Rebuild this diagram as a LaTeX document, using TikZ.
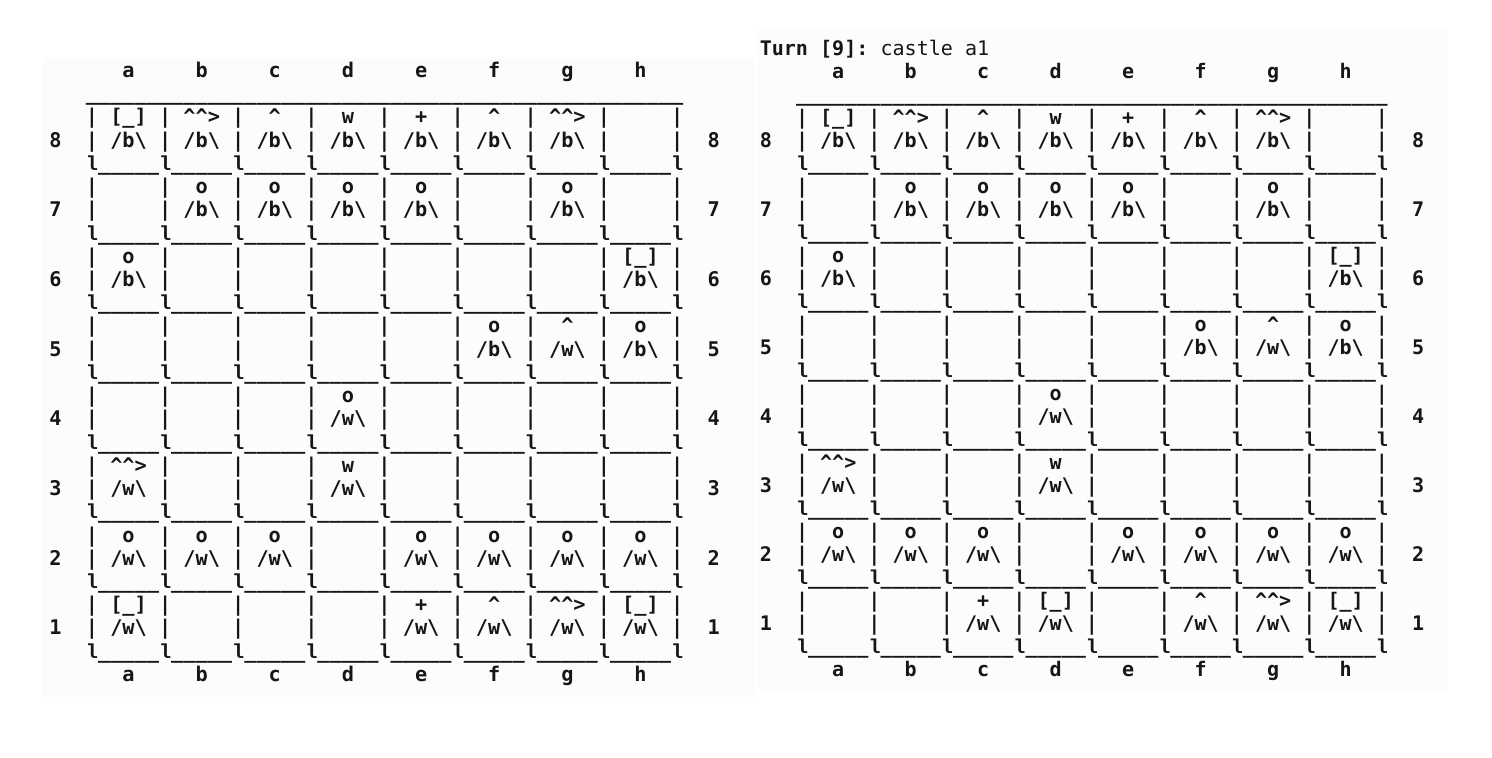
\documentclass[tikz,border=0pt]{standalone}
\usepackage{fontspec}
\setmonofont{DejaVu Sans Mono}
\newfontfamily\cornerfont{Liberation Mono}
\definecolor{panel}{HTML}{FCFCFC}
\definecolor{ink}{HTML}{161616}
\newcommand\pcr{[\_]}
\newcommand\pcn{\textasciicircum\textasciicircum>}
\newcommand\pcb{\textasciicircum}
\newcommand\pcq{w}
\newcommand\pck{+}
\newcommand\pcp{o}
\newcommand\pwb{/b\textbackslash}
\newcommand\pww{/w\textbackslash}
\newcommand\fiveunders{\_\_\_\_\_}
\newcommand\topunders{\_\_\_\_\_\_\_\_\_\_\_\_\_\_\_\_\_\_\_\_\_\_\_\_\_\_\_\_\_\_\_\_\_\_\_\_\_\_\_\_\_\_\_\_\_\_\_\_\_}
\newcommand\bdfont{}
\newcommand\cnfont{}
\tikzset{
  ch/.style={anchor=base, inner sep=0pt, outer sep=0pt, text=ink, font=\bdfont},
  corner/.style={anchor=base, inner sep=0pt, outer sep=0pt, text=ink, font=\cnfont},
  strw/.style={anchor=base west, inner sep=0pt, outer sep=0pt, text=ink, font=\bdfont},
}
% #1 prefix, #2 row index (0..7), #3 rank, #4 cells
\newcommand\boardrow[4]{%
  \pgfmathtruncatemacro\rowT{2+3*#2}%
  \pgfmathtruncatemacro\rowM{3+3*#2}%
  \pgfmathtruncatemacro\rowB{4+3*#2}%
  \node[ch] (#1-l#3) at (0,\rowM) {#3};
  \node[ch] (#1-r#3) at (54,\rowM) {#3};
  \foreach \m in {0,...,8} {
    \node[ch] (#1-#3-t\m) at ({3+6*\m},\rowT) {|};
    \node[ch] (#1-#3-m\m) at ({3+6*\m},\rowM) {|};
    \node[corner] (#1-#3-k\m) at ({3+6*\m},\rowB) {l};
  }
  \foreach \m in {0,...,7} {
    \node[strw] (#1-#3-u\m) at ({3.5+6*\m},\rowB) {\fiveunders};
  }
  \foreach \p/\cl [count=\j from 0] in {#4} {
    \if\p-\else
      \node[ch] (#1-#3-p\j) at ({6+6*\j},\rowT) {\csname pc\p\endcsname};
      \node[ch] (#1-#3-c\j) at ({6+6*\j},\rowM) {\csname pw\cl\endcsname};
    \fi
  }
}
\newcommand\boardframe[1]{%
  \foreach \L [count=\j from 0] in {a,...,h} {
    \node[ch] (#1-top\L) at ({6+6*\j},0) {\L};
    \node[ch] (#1-bot\L) at ({6+6*\j},26) {\L};
  }
  \node[strw] (#1-topline) at (2.5,1) {\topunders};
}
\begin{document}
\begin{tikzpicture}
\useasboundingbox (0,0) rectangle (1492pt,-758pt);
\fill[panel] (42pt,-58pt) rectangle (755pt,-697pt);
\fill[panel] (757pt,-28pt) rectangle (1447pt,-690pt);

% left board
\begin{scope}[x={(12.19pt,0)}, y={(0,-23.23pt)}, shift={(55.4pt,-77.4pt)}]
\renewcommand\bdfont{\fontsize{20.25}{23}\selectfont\ttfamily\bfseries}
\renewcommand\cnfont{\fontsize{20.25}{23}\selectfont\cornerfont\bfseries}
\boardframe{L}
\boardrow{L}{0}{8}{r/b,n/b,b/b,q/b,k/b,b/b,n/b,-/-}
\boardrow{L}{1}{7}{-/-,p/b,p/b,p/b,p/b,-/-,p/b,-/-}
\boardrow{L}{2}{6}{p/b,-/-,-/-,-/-,-/-,-/-,-/-,r/b}
\boardrow{L}{3}{5}{-/-,-/-,-/-,-/-,-/-,p/b,b/w,p/b}
\boardrow{L}{4}{4}{-/-,-/-,-/-,p/w,-/-,-/-,-/-,-/-}
\boardrow{L}{5}{3}{n/w,-/-,-/-,q/w,-/-,-/-,-/-,-/-}
\boardrow{L}{6}{2}{p/w,p/w,p/w,-/-,p/w,p/w,p/w,p/w}
\boardrow{L}{7}{1}{r/w,-/-,-/-,-/-,k/w,b/w,n/w,r/w}
\end{scope}

% right board
\begin{scope}[x={(12.08pt,0)}, y={(0,-23.0pt)}, shift={(765.8pt,-78.4pt)}]
\renewcommand\bdfont{\fontsize{20.06}{23}\selectfont\ttfamily\bfseries}
\renewcommand\cnfont{\fontsize{20.06}{23}\selectfont\cornerfont\bfseries}
\node[strw] (R-turn) at (-0.5,-1) {Turn [9]:\mdseries\ castle a1};
\boardframe{R}
\boardrow{R}{0}{8}{r/b,n/b,b/b,q/b,k/b,b/b,n/b,-/-}
\boardrow{R}{1}{7}{-/-,p/b,p/b,p/b,p/b,-/-,p/b,-/-}
\boardrow{R}{2}{6}{p/b,-/-,-/-,-/-,-/-,-/-,-/-,r/b}
\boardrow{R}{3}{5}{-/-,-/-,-/-,-/-,-/-,p/b,b/w,p/b}
\boardrow{R}{4}{4}{-/-,-/-,-/-,p/w,-/-,-/-,-/-,-/-}
\boardrow{R}{5}{3}{n/w,-/-,-/-,q/w,-/-,-/-,-/-,-/-}
\boardrow{R}{6}{2}{p/w,p/w,p/w,-/-,p/w,p/w,p/w,p/w}
\boardrow{R}{7}{1}{-/-,-/-,k/w,r/w,-/-,b/w,n/w,r/w}
\end{scope}
\end{tikzpicture}
\end{document}
